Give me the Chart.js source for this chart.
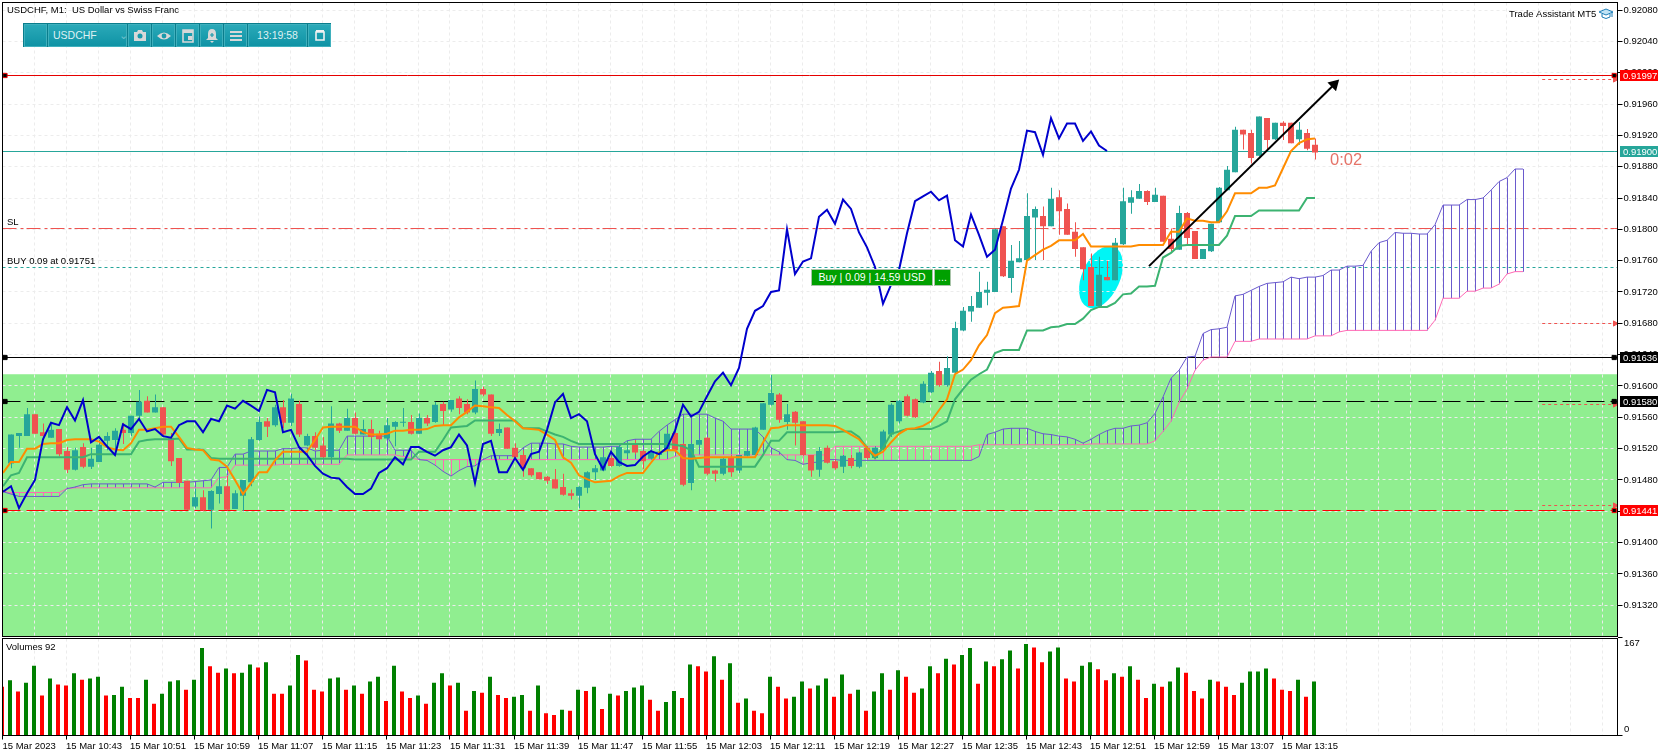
<!DOCTYPE html>
<html>
<head>
<meta charset="utf-8">
<title>USDCHF, M1</title>
<script src="https://cdn.jsdelivr.net/npm/chart.js@4/dist/chart.umd.min.js"></script>
<style>
  html, body { margin: 0; padding: 0; background: #fff; overflow: hidden; }
  #wrap { position: relative; width: 1670px; height: 756px; font-family: 'Liberation Sans', sans-serif; }
  canvas { position: absolute; left: 0; top: 0; }
  #toolbar { position: absolute; left: 23px; top: 23px; width: 308px; height: 24px; background: #0a7d8c; }
  #toolbar div { position: absolute; top: 1px; height: 21px; line-height: 21px; color: #dff1f3; font-size: 10.5px;
    background: linear-gradient(#2aa9b8, #0f93a5); border: 1px solid #3fb0bd; box-sizing: content-box; text-align: center; }
  #toolbar svg { position: absolute; left: 4px; top: 3px; }
  #buy, #more { position: absolute; top: 269px; height: 15px; line-height: 15px; background: #00a000; color: #fff;
    font-size: 10.5px; border: 1px solid #a9c4a9; text-align: center; }
  #buy { left: 811px; width: 120px; }
  #more { left: 934px; width: 15px; }
  #hat { position: absolute; left: 1598px; top: 6px; }
</style>
</head>
<body>
<div id="wrap">
  <canvas id="chart" width="1670" height="756"></canvas>
  <div id="toolbar">
    <div style="left:1px;width:21px"></div>
    <div style="left:25px;width:77px;text-align:left;text-indent:4px">USDCHF<span style="position:absolute;left:66px;color:#6fc0cb">&#8964;</span></div>
    <div style="left:105px;width:21px"><svg width="14" height="15" viewBox="0 0 14 15"><path d="M1 4h3l1-2h4l1 2h3v9H1z" fill="#d8d8d8"/><circle cx="7" cy="8" r="2.5" fill="#1a9aab"/></svg></div>
    <div style="left:129px;width:21px"><svg width="14" height="15" viewBox="0 0 14 15"><path d="M0 8q7-7 14 0q-7 7-14 0z" fill="#d8d8d8"/><circle cx="7" cy="8" r="2.4" fill="#1a9aab"/></svg></div>
    <div style="left:153px;width:21px"><svg width="14" height="15" viewBox="0 0 14 15"><path d="M2 2h10v12H2z" fill="none" stroke="#d8d8d8" stroke-width="1.6"/><path d="M2 2h10v3H2zM7 8h4v4H7z" fill="#d8d8d8"/></svg></div>
    <div style="left:177px;width:21px"><svg width="14" height="15" viewBox="0 0 14 15"><path d="M7 1q4 0 4 5v4l2 2H1l2-2V6q0-5 4-5zM5 13h4l-2 2z" fill="#d8d8d8"/><path d="M5 7h4M7 5v4" stroke="#1a9aab" stroke-width="1.2"/></svg></div>
    <div style="left:201px;width:21px"><svg width="14" height="15" viewBox="0 0 14 15"><path d="M1 4h12M1 8h12M1 12h12" stroke="#d8d8d8" stroke-width="2"/></svg></div>
    <div style="left:225px;width:57px">13:19:58</div>
    <div style="left:285px;width:21px"><svg width="14" height="15" viewBox="0 0 14 15"><path d="M3 4h8v8H3z" fill="none" stroke="#f2f2f2" stroke-width="1.6"/><path d="M3 3h8" stroke="#f2f2f2" stroke-width="2"/></svg></div>
  </div>
  <div id="buy">Buy | 0.09 | 14.59 USD</div>
  <div id="more">...</div>
  <svg id="hat" width="16" height="16" viewBox="0 0 16 16"><path d="M1 6l7-3 7 3-7 3z" fill="#bfe3f5" stroke="#1f7fb8"/><path d="M4 8v3q4 3 8 0V8" fill="none" stroke="#1f7fb8"/><path d="M14 6v5" stroke="#1f7fb8"/></svg>
</div>

<script>
// === Candles (one per minute, 10:35 to 13:19) ===
const opens = [
0.91467,0.91501,0.91536,0.91536,0.91564,0.91541,0.91534,0.91545,0.91517,0.91493,
0.91522,0.91497,0.91503,0.91530,0.91531,0.91544,0.91540,0.91562,0.91581,0.91566,
0.91573,0.91534,0.91508,0.91479,0.91446,0.91458,0.91442,0.91462,0.91472,0.91443,
0.91460,0.91477,0.91531,0.91555,0.91550,0.91573,0.91553,0.91577,0.91524,0.91536,
0.91524,0.91509,0.91552,0.91543,0.91559,0.91538,0.91545,0.91539,0.91533,0.91548,
0.91553,0.91554,0.91539,0.91559,0.91554,0.91577,0.91570,0.91584,0.91577,0.91566,
0.91596,0.91589,0.91540,0.91547,0.91521,0.91512,0.91495,0.91490,0.91484,0.91481,
0.91471,0.91463,0.91460,0.91470,0.91490,0.91492,0.91508,0.91498,0.91514,0.91525,
0.91517,0.91507,0.91512,0.91518,0.91540,0.91526,0.91476,0.91525,0.91534,0.91492,
0.91488,0.91508,0.91492,0.91511,0.91512,0.91544,0.91576,0.91589,0.91554,0.91567,
0.91555,0.91512,0.91493,0.91521,0.91504,0.91497,0.91508,0.91497,0.91521,0.91508,
0.91519,0.91538,0.91555,0.91587,0.91583,0.91579,0.91592,0.91619,0.91601,0.91617,
0.91671,0.91695,0.91700,0.91719,0.91720,0.91804,0.91738,0.91758,0.91761,0.91815,
0.91817,0.91804,0.91841,0.91826,0.91797,0.91777,0.91752,0.91702,0.91739,0.91735,
0.91781,0.91834,0.91839,0.91849,0.91835,0.91843,0.91788,0.91774,0.91821,0.91798,
0.91762,0.91772,0.91809,0.91850,0.91873,0.91927,0.91923,0.91894,0.91942,0.91915,
0.91936,0.91936,0.91915,0.91923,0.91908];
const highs = [
0.91467,0.91538,0.91540,0.91572,0.91564,0.91552,0.91553,0.91545,0.91522,0.91521,
0.91527,0.91521,0.91531,0.91541,0.91546,0.91553,0.91562,0.91595,0.91587,0.91589,
0.91573,0.91540,0.91508,0.91479,0.91469,0.91467,0.91467,0.91485,0.91485,0.91467,
0.91480,0.91535,0.91561,0.91559,0.91576,0.91582,0.91590,0.91581,0.91539,0.91541,
0.91535,0.91574,0.91553,0.91571,0.91566,0.91557,0.91557,0.91543,0.91559,0.91555,
0.91572,0.91563,0.91565,0.91563,0.91580,0.91580,0.91582,0.91587,0.91583,0.91607,
0.91599,0.91589,0.91552,0.91547,0.91527,0.91518,0.91495,0.91490,0.91485,0.91494,
0.91488,0.91468,0.91472,0.91491,0.91499,0.91510,0.91510,0.91525,0.91530,0.91531,
0.91518,0.91518,0.91518,0.91540,0.91540,0.91527,0.91527,0.91533,0.91535,0.91493,
0.91508,0.91512,0.91512,0.91517,0.91548,0.91578,0.91614,0.91591,0.91577,0.91568,
0.91555,0.91512,0.91522,0.91524,0.91506,0.91512,0.91512,0.91516,0.91523,0.91523,
0.91544,0.91578,0.91582,0.91589,0.91584,0.91606,0.91619,0.91631,0.91638,0.91682,
0.91701,0.91715,0.91746,0.91733,0.91801,0.91804,0.91780,0.91785,0.91846,0.91829,
0.91829,0.91853,0.91850,0.91833,0.91809,0.91777,0.91769,0.91765,0.91760,0.91789,
0.91853,0.91850,0.91858,0.91850,0.91853,0.91843,0.91801,0.91830,0.91822,0.91798,
0.91775,0.91807,0.91854,0.91881,0.91931,0.91927,0.91927,0.91944,0.91942,0.91936,
0.91938,0.91936,0.91937,0.91928,0.91916];
const lows = [
0.91465,0.91495,0.91521,0.91536,0.91539,0.91531,0.91534,0.91510,0.91489,0.91492,
0.91495,0.91494,0.91503,0.91518,0.91518,0.91526,0.91536,0.91557,0.91566,0.91566,
0.91535,0.91498,0.91476,0.91442,0.91444,0.91440,0.91418,0.91450,0.91441,0.91443,
0.91440,0.91472,0.91530,0.91535,0.91548,0.91546,0.91549,0.91535,0.91523,0.91518,
0.91508,0.91508,0.91540,0.91543,0.91538,0.91538,0.91533,0.91532,0.91532,0.91523,
0.91548,0.91538,0.91539,0.91549,0.91553,0.91550,0.91567,0.91564,0.91564,0.91564,
0.91587,0.91536,0.91536,0.91520,0.91508,0.91484,0.91484,0.91481,0.91475,0.91469,
0.91460,0.91455,0.91444,0.91463,0.91480,0.91491,0.91497,0.91497,0.91510,0.91513,
0.91494,0.91506,0.91510,0.91516,0.91516,0.91472,0.91467,0.91523,0.91486,0.91478,
0.91486,0.91484,0.91489,0.91510,0.91510,0.91544,0.91575,0.91553,0.91544,0.91524,
0.91511,0.91484,0.91484,0.91501,0.91493,0.91489,0.91495,0.91495,0.91506,0.91507,
0.91518,0.91535,0.91552,0.91561,0.91559,0.91578,0.91591,0.91599,0.91599,0.91615,
0.91670,0.91682,0.91700,0.91703,0.91720,0.91739,0.91719,0.91758,0.91761,0.91761,
0.91761,0.91804,0.91793,0.91793,0.91765,0.91735,0.91702,0.91702,0.91735,0.91735,
0.91780,0.91820,0.91839,0.91831,0.91835,0.91784,0.91772,0.91774,0.91780,0.91762,
0.91762,0.91771,0.91808,0.91850,0.91873,0.91902,0.91884,0.91893,0.91901,0.91914,
0.91914,0.91910,0.91908,0.91901,0.91889];
const closes = [
0.91465,0.91538,0.91540,0.91564,0.91539,0.91536,0.91544,0.91513,0.91493,0.91518,
0.91497,0.91507,0.91525,0.91536,0.91543,0.91540,0.91562,0.91580,0.91566,0.91573,
0.91538,0.91504,0.91476,0.91442,0.91458,0.91441,0.91466,0.91472,0.91442,0.91463,
0.91480,0.91532,0.91554,0.91548,0.91573,0.91553,0.91584,0.91538,0.91536,0.91521,
0.91509,0.91552,0.91543,0.91559,0.91539,0.91545,0.91535,0.91532,0.91550,0.91554,
0.91554,0.91539,0.91559,0.91552,0.91576,0.91568,0.91582,0.91572,0.91566,0.91596,
0.91589,0.91539,0.91545,0.91520,0.91509,0.91495,0.91486,0.91481,0.91479,0.91469,
0.91461,0.91460,0.91471,0.91490,0.91495,0.91509,0.91498,0.91522,0.91518,0.91515,
0.91504,0.91517,0.91516,0.91539,0.91518,0.91474,0.91526,0.91531,0.91488,0.91488,
0.91507,0.91490,0.91512,0.91517,0.91547,0.91578,0.91591,0.91557,0.91564,0.91553,
0.91512,0.91492,0.91517,0.91502,0.91495,0.91511,0.91498,0.91515,0.91508,0.91521,
0.91542,0.91576,0.91581,0.91562,0.91560,0.91603,0.91617,0.91601,0.91623,0.91674,
0.91696,0.91702,0.91720,0.91723,0.91800,0.91740,0.91760,0.91763,0.91817,0.91826,
0.91804,0.91839,0.91823,0.91793,0.91775,0.91749,0.91702,0.91742,0.91735,0.91783,
0.91836,0.91841,0.91849,0.91835,0.91844,0.91784,0.91775,0.91821,0.91789,0.91762,
0.91775,0.91807,0.91853,0.91876,0.91927,0.91921,0.91891,0.91944,0.91914,0.91936,
0.91932,0.91910,0.91927,0.91903,0.91898];

// === Ichimoku lines ===
const tenkan = [
0.91489,0.91503,0.91503,0.91520,0.91520,0.91526,0.91527,0.91527,0.91531,0.91532,
0.91532,0.91532,0.91529,0.91522,0.91519,0.91518,0.91527,0.91544,0.91544,0.91546,
0.91548,0.91548,0.91535,0.91521,0.91519,0.91518,0.91506,0.91505,0.91497,0.91480,
0.91462,0.91476,0.91490,0.91490,0.91505,0.91516,0.91516,0.91516,0.91516,0.91531,
0.91547,0.91548,0.91548,0.91548,0.91548,0.91541,0.91538,0.91538,0.91539,0.91543,
0.91543,0.91544,0.91544,0.91545,0.91549,0.91550,0.91550,0.91560,0.91567,0.91575,
0.91574,0.91573,0.91572,0.91563,0.91555,0.91546,0.91545,0.91544,0.91538,0.91531,
0.91509,0.91502,0.91486,0.91481,0.91477,0.91478,0.91479,0.91485,0.91489,0.91489,
0.91489,0.91502,0.91515,0.91518,0.91518,0.91508,0.91507,0.91508,0.91509,0.91509,
0.91509,0.91509,0.91509,0.91509,0.91509,0.91528,0.91546,0.91547,0.91550,0.91550,
0.91550,0.91550,0.91550,0.91550,0.91549,0.91544,0.91538,0.91532,0.91521,0.91511,
0.91516,0.91528,0.91539,0.91545,0.91546,0.91549,0.91555,0.91569,0.91583,0.91615,
0.91621,0.91633,0.91652,0.91665,0.91693,0.91700,0.91701,0.91702,0.91760,0.91767,
0.91774,0.91779,0.91786,0.91786,0.91786,0.91794,0.91778,0.91778,0.91778,0.91778,
0.91778,0.91778,0.91780,0.91780,0.91780,0.91780,0.91797,0.91797,0.91814,0.91811,
0.91811,0.91809,0.91809,0.91823,0.91846,0.91846,0.91846,0.91853,0.91853,0.91856,
0.91878,0.91900,0.91910,0.91915,0.91916];
const kijun = [
0.91472,0.91486,0.91489,0.91509,0.91509,0.91509,0.91509,0.91509,0.91509,0.91509,
0.91509,0.91513,0.91513,0.91513,0.91513,0.91513,0.91513,0.91529,0.91531,0.91532,
0.91532,0.91532,0.91533,0.91519,0.91519,0.91519,0.91508,0.91507,0.91507,0.91507,
0.91507,0.91507,0.91507,0.91507,0.91507,0.91507,0.91507,0.91507,0.91507,0.91507,
0.91507,0.91507,0.91507,0.91507,0.91506,0.91506,0.91506,0.91506,0.91506,0.91506,
0.91506,0.91506,0.91516,0.91516,0.91516,0.91531,0.91547,0.91548,0.91549,0.91556,
0.91556,0.91556,0.91556,0.91556,0.91556,0.91546,0.91546,0.91546,0.91542,0.91538,
0.91535,0.91530,0.91526,0.91526,0.91526,0.91526,0.91526,0.91526,0.91526,0.91526,
0.91526,0.91526,0.91526,0.91526,0.91525,0.91523,0.91518,0.91497,0.91497,0.91497,
0.91497,0.91497,0.91497,0.91497,0.91497,0.91512,0.91530,0.91530,0.91541,0.91541,
0.91541,0.91541,0.91541,0.91541,0.91541,0.91542,0.91542,0.91535,0.91521,0.91508,
0.91521,0.91539,0.91542,0.91545,0.91545,0.91545,0.91545,0.91549,0.91555,0.91583,
0.91596,0.91608,0.91615,0.91621,0.91642,0.91646,0.91646,0.91646,0.91671,0.91671,
0.91671,0.91675,0.91676,0.91679,0.91679,0.91686,0.91697,0.91701,0.91701,0.91706,
0.91717,0.91718,0.91727,0.91727,0.91728,0.91764,0.91770,0.91779,0.91780,0.91780,
0.91780,0.91780,0.91780,0.91792,0.91817,0.91817,0.91817,0.91824,0.91824,0.91824,
0.91824,0.91824,0.91824,0.91840,0.91840];
const chikou = [
0.91465,0.91472,0.91444,0.91463,0.91480,0.91532,0.91553,0.91550,0.91573,0.91556,
0.91582,0.91528,0.91535,0.91523,0.91512,0.91551,0.91545,0.91558,0.91542,0.91545,
0.91536,0.91534,0.91550,0.91555,0.91555,0.91541,0.91558,0.91555,0.91575,0.91571,
0.91581,0.91575,0.91568,0.91595,0.91592,0.91541,0.91544,0.91522,0.91512,0.91498,
0.91488,0.91483,0.91482,0.91471,0.91462,0.91462,0.91469,0.91489,0.91495,0.91509,
0.91500,0.91522,0.91522,0.91516,0.91511,0.91518,0.91522,0.91538,0.91524,0.91476,
0.91526,0.91530,0.91490,0.91490,0.91508,0.91493,0.91513,0.91516,0.91544,0.91579,
0.91590,0.91559,0.91564,0.91555,0.91513,0.91494,0.91516,0.91503,0.91498,0.91499,
0.91510,0.91517,0.91513,0.91521,0.91543,0.91576,0.91561,0.91567,0.91587,0.91606,
0.91617,0.91601,0.91623,0.91673,0.91696,0.91702,0.91720,0.91722,0.91800,0.91743,
0.91759,0.91763,0.91816,0.91825,0.91807,0.91838,0.91826,0.91796,0.91777,0.91752,
0.91705,0.91729,0.91748,0.91795,0.91836,0.91842,0.91848,0.91837,0.91843,0.91786,
0.91778,0.91819,0.91793,0.91765,0.91774,0.91812,0.91852,0.91876,0.91926,0.91924,
0.91895,0.91942,0.91916,0.91935,0.91935,0.91913,0.91925,0.91907,0.91900];
const senkouA = [
0.91465,0.91462,0.91459,0.91459,0.91459,0.91459,0.91459,0.91459,0.91469,0.91471,
0.91474,0.91475,0.91475,0.91475,0.91475,0.91475,0.91475,0.91475,0.91475,0.91471,
0.91477,0.91477,0.91477,0.91477,0.91478,0.91479,0.91480,0.91496,0.91496,0.91513,
0.91513,0.91517,0.91517,0.91517,0.91517,0.91520,0.91520,0.91521,0.91521,0.91517,
0.91518,0.91518,0.91518,0.91536,0.91536,0.91536,0.91536,0.91536,0.91536,0.91518,
0.91518,0.91518,0.91506,0.91505,0.91499,0.91491,0.91485,0.91492,0.91497,0.91498,
0.91506,0.91511,0.91511,0.91511,0.91511,0.91521,0.91527,0.91527,0.91527,0.91526,
0.91526,0.91523,0.91522,0.91522,0.91522,0.91522,0.91523,0.91523,0.91530,0.91532,
0.91532,0.91532,0.91542,0.91550,0.91557,0.91564,0.91564,0.91564,0.91564,0.91559,
0.91555,0.91545,0.91545,0.91545,0.91545,0.91535,0.91521,0.91516,0.91506,0.91505,
0.91500,0.91502,0.91503,0.91506,0.91506,0.91505,0.91505,0.91505,0.91505,0.91505,
0.91505,0.91505,0.91505,0.91505,0.91505,0.91505,0.91505,0.91505,0.91505,0.91505,
0.91505,0.91505,0.91510,0.91538,0.91541,0.91545,0.91546,0.91546,0.91546,0.91542,
0.91539,0.91538,0.91536,0.91535,0.91532,0.91527,0.91532,0.91538,0.91543,0.91546,
0.91546,0.91549,0.91550,0.91553,0.91565,0.91586,0.91610,0.91620,0.91637,0.91638,
0.91667,0.91672,0.91673,0.91675,0.91715,0.91717,0.91722,0.91727,0.91731,0.91732,
0.91733,0.91739,0.91737,0.91739,0.91739,0.91741,0.91748,0.91748,0.91753,0.91753,
0.91754,0.91772,0.91783,0.91786,0.91796,0.91795,0.91795,0.91794,0.91794,0.91806,
0.91831,0.91831,0.91831,0.91838,0.91838,0.91840,0.91850,0.91861,0.91866,0.91877,
0.91877];
const senkouB = [
0.91465,0.91464,0.91464,0.91464,0.91464,0.91464,0.91464,0.91464,0.91469,0.91470,
0.91470,0.91470,0.91470,0.91470,0.91470,0.91470,0.91470,0.91470,0.91470,0.91470,
0.91470,0.91470,0.91470,0.91470,0.91470,0.91470,0.91470,0.91483,0.91484,0.91499,
0.91499,0.91499,0.91499,0.91499,0.91499,0.91500,0.91500,0.91500,0.91500,0.91500,
0.91500,0.91500,0.91500,0.91512,0.91512,0.91512,0.91512,0.91512,0.91512,0.91512,
0.91510,0.91508,0.91506,0.91506,0.91506,0.91506,0.91506,0.91506,0.91506,0.91506,
0.91506,0.91506,0.91506,0.91506,0.91506,0.91506,0.91506,0.91506,0.91506,0.91506,
0.91506,0.91506,0.91506,0.91506,0.91506,0.91506,0.91506,0.91506,0.91506,0.91506,
0.91506,0.91506,0.91506,0.91506,0.91510,0.91512,0.91512,0.91512,0.91512,0.91512,
0.91512,0.91512,0.91512,0.91512,0.91512,0.91512,0.91512,0.91512,0.91512,0.91512,
0.91512,0.91512,0.91512,0.91512,0.91523,0.91523,0.91523,0.91523,0.91523,0.91523,
0.91523,0.91523,0.91523,0.91523,0.91523,0.91523,0.91523,0.91523,0.91523,0.91523,
0.91523,0.91523,0.91525,0.91525,0.91525,0.91525,0.91525,0.91525,0.91525,0.91525,
0.91525,0.91525,0.91525,0.91525,0.91525,0.91525,0.91526,0.91526,0.91526,0.91526,
0.91526,0.91526,0.91526,0.91526,0.91530,0.91542,0.91555,0.91579,0.91596,0.91620,
0.91633,0.91637,0.91637,0.91637,0.91657,0.91657,0.91657,0.91660,0.91660,0.91660,
0.91660,0.91660,0.91660,0.91660,0.91664,0.91664,0.91664,0.91669,0.91671,0.91671,
0.91671,0.91671,0.91671,0.91671,0.91671,0.91671,0.91671,0.91671,0.91671,0.91684,
0.91712,0.91712,0.91712,0.91721,0.91721,0.91725,0.91725,0.91730,0.91743,0.91746,
0.91746];

// === Volumes ===
const volumes = [
83,94,75,90,119,68,97,87,85,106,95,97,100,68,69,83,64,64,95,54,
71,92,94,78,95,149,118,107,114,106,107,121,116,125,71,71,85,137,128,78,
75,97,99,78,85,71,92,100,59,119,75,64,68,54,90,106,85,90,42,76,
73,100,69,64,66,69,42,85,38,35,44,42,78,76,83,45,71,68,76,82,
85,61,42,57,76,64,121,118,109,135,95,123,56,63,42,38,100,83,63,66,
92,80,85,97,66,104,71,78,42,75,106,78,111,100,73,80,118,106,131,121,
137,149,88,126,118,130,145,114,156,150,125,143,150,97,92,119,125,113,94,106,
100,118,95,64,88,83,92,116,107,76,63,95,92,83,69,90,109,109,114,97,
78,76,95,66,92];

// === Axis labels ===
const timeLabels = ['15 Mar 2023','15 Mar 10:43','15 Mar 10:51','15 Mar 10:59','15 Mar 11:07','15 Mar 11:15','15 Mar 11:23',
  '15 Mar 11:31','15 Mar 11:39','15 Mar 11:47','15 Mar 11:55','15 Mar 12:03','15 Mar 12:11','15 Mar 12:19','15 Mar 12:27',
  '15 Mar 12:35','15 Mar 12:43','15 Mar 12:51','15 Mar 12:59','15 Mar 13:07','15 Mar 13:15'];
const priceTicks = [0.92080,0.92040,0.92000,0.91960,0.91920,0.91880,0.91840,0.91800,0.91760,0.91720,
  0.91680,0.91640,0.91600,0.91560,0.91520,0.91480,0.91440,0.91400,0.91360,0.91320];
const volumeTicks = [167, 0];

// === Price levels and objects ===
const levelPrices = [0.91997, 0.91900, 0.91801, 0.91751, 0.91636, 0.91580, 0.91441];
const levelColors = ['#e60000', '#26a69a', '#ef5350', '#26a69a', '#000000', '#000000', '#ff0000'];
const levelDashes = [[], [], [14, 4, 3, 3], [3, 3], [], [18, 6], [18, 6]];
const levelHandles = [true, false, false, false, true, true, true];
const tagPrices = [0.91997, 0.91900, 0.91636, 0.91580, 0.91441];
const tagColors = ['#ff0000', '#26a69a', '#000000', '#000000', '#ff0000'];
const arrowPrices = [0.91991, 0.91680, 0.91576, 0.91448];
const trendBars = [143.25, 166.4];
const trendPrices = [0.91753, 0.91985];
const bandTop = 0.91615;
const ellipseBar = 137.25;
const ellipsePrice = 0.91739;

// === Geometry of the panes ===
const plotLeft = 2.5, plotRight = 1617.5, barStep = 8;
const fontFamily = "'Liberation Sans', sans-serif";
const upColor = '#26a69a', downColor = '#ef5350';

function hiddenX(firstBarPx) {
  return {
    type: 'linear', display: false, offset: false,
    min: (plotLeft - firstBarPx) / barStep,
    max: (plotRight - firstBarPx) / barStep,
    grid: { offset: false }
  };
}
const points = arr => arr.map((y, i) => ({ x: i, y }));
const candleColors = opens.map((o, i) => closes[i] >= o ? upColor : downColor);

let volumeUp = false;
const volumeColors = volumes.map((v, i) => {
  if (i > 0 && v !== volumes[i - 1]) volumeUp = v > volumes[i - 1];
  return volumeUp ? '#008000' : '#ff0000';
});

function lineSet(arr, color, width) {
  return { type: 'line', data: points(arr), xAxisID: 'xc', yAxisID: 'y', borderColor: color, borderWidth: width,
    pointRadius: 0, tension: 0, fill: false };
}
function barSet(data, colors, width, xAxisID, yAxisID) {
  return { type: 'bar', data, xAxisID, yAxisID, backgroundColor: colors, barThickness: width, grouped: false,
    borderWidth: 0, inflateAmount: 0, minBarLength: 1 };
}

// === Datasets, the first in the list is drawn on top ===
const datasets = [];
datasets.push({
  type: 'line', xAxisID: 'xc', yAxisID: 'y', data: trendBars.map((x, i) => ({ x, y: trendPrices[i] })),
  borderColor: '#000', borderWidth: 2, backgroundColor: '#000', pointStyle: 'triangle', pointRotation: 45,
  pointBorderColor: '#000', pointRadius: ctx => ctx.dataIndex === 1 ? 5 : 0
});
datasets.push(lineSet(chikou, '#0000cd', 2));
datasets.push(lineSet(tenkan, '#ff8c00', 2));
datasets.push(lineSet(kijun, '#3cb371', 2));
datasets.push(barSet(opens.map((o, i) => ({ x: i, y: [o, closes[i]] })), candleColors, 6, 'xc', 'y'));
datasets.push(barSet(highs.map((h, i) => ({ x: i, y: [lows[i], h] })), candleColors, 1, 'xw', 'y'));
datasets.push(lineSet(senkouA, '#6a5acd', 1));
datasets.push(lineSet(senkouB, '#ff69b4', 1));
datasets.push(barSet(senkouA.map((a, i) => ({ x: i, y: [a, senkouB[i]] })),
  senkouA.map((a, i) => a >= senkouB[i] ? '#6a5acd' : '#ff69b4'), 1, 'xw', 'y'));

levelPrices.forEach((price, n) => {
  const xc = hiddenX(3);
  datasets.push({
    type: 'line', xAxisID: 'xc', yAxisID: 'y', snapToRow: true,
    data: [xc.min, 0.25, 201.4, xc.max].map(x => ({ x, y: price })),
    borderColor: levelColors[n], borderWidth: 1, borderDash: levelDashes[n],
    pointStyle: 'rect', pointBackgroundColor: '#000', pointBorderColor: levelColors[n], pointBorderWidth: 1,
    pointRadius: ctx => levelHandles[n] && (ctx.dataIndex === 1 || ctx.dataIndex === 2) ? 3 : 0
  });
});
arrowPrices.forEach(price => {
  datasets.push({
    type: 'line', xAxisID: 'xc', yAxisID: 'y', snapToRow: true, data: [{ x: 192.4, y: price }, { x: 201.5, y: price }],
    borderColor: '#ef5350', borderWidth: 1, borderDash: [3, 3], backgroundColor: '#ef5350',
    pointStyle: 'triangle', pointRotation: 90, pointBorderColor: '#ef5350',
    pointRadius: ctx => ctx.dataIndex === 1 ? 3 : 0
  });
});
datasets.push(barSet(points(volumes), volumeColors, 4, 'x', 'yVol'));

// === Band, ellipse, pane frames, price tags and chart texts ===
const decorations = {
  id: 'decorations',
  beforeDraw(chart) {
    const { ctx, scales } = chart;
    const y = scales.y, xc = scales.xc;
    const top = y.getPixelForValue(bandTop);
    ctx.save();
    ctx.fillStyle = '#90ee90';
    ctx.fillRect(plotLeft, top, plotRight - plotLeft, y.bottom - 1 - top);
    ctx.fillStyle = '#00f5f5';
    ctx.beginPath();
    ctx.ellipse(xc.getPixelForValue(ellipseBar), y.getPixelForValue(ellipsePrice), 33, 19, -66 * Math.PI / 180, 0, Math.PI * 2);
    ctx.fill();
    ctx.restore();
  },
  // horizontal levels stay one pixel sharp, like the grid lines
  beforeDatasetsDraw(chart) {
    chart.data.datasets.forEach((ds, i) => {
      if (!ds.snapToRow) return;
      chart.getDatasetMeta(i).data.forEach(pt => { pt.y = Math.floor(pt.y) + 0.5; });
    });
  },
  afterDraw(chart) {
    const { ctx, scales } = chart;
    const y = scales.y, yVol = scales.yVol;
    ctx.save();

    // pane frames
    ctx.strokeStyle = '#000';
    ctx.lineWidth = 1;
    ctx.strokeRect(plotLeft, y.top, plotRight - plotLeft, y.bottom - 1 - y.top);
    ctx.strokeRect(plotLeft, yVol.top + 1, plotRight - plotLeft, yVol.bottom - yVol.top - 1);

    // price tags on the axis
    ctx.font = '9.5px ' + fontFamily;
    ctx.textBaseline = 'middle';
    tagPrices.forEach((price, i) => {
      const py = Math.floor(y.getPixelForValue(price));
      ctx.fillStyle = tagColors[i];
      ctx.fillRect(1620, py - 5, 38, 11);
      ctx.fillStyle = '#fff';
      ctx.fillText(price.toFixed(5), 1623, py + 1);
    });

    // volume axis labels sit inside the pane
    ctx.fillStyle = '#000';
    ctx.fillText(String(volumeTicks[0]), 1624, yVol.getPixelForValue(volumeTicks[0]) + 6);
    ctx.fillText(String(volumeTicks[1]), 1624, yVol.getPixelForValue(volumeTicks[1]) - 6);

    // labels inside the chart
    ctx.fillText('USDCHF, M1:  US Dollar vs Swiss Franc', 7, 10);
    ctx.fillText('Trade Assistant MT5', 1509, 14);
    ctx.fillText('Volumes 92', 6, 647);
    ctx.fillText('SL', 7, y.getPixelForValue(levelPrices[2]) - 6);
    ctx.fillText('BUY 0.09 at 0.91751', 7, y.getPixelForValue(levelPrices[3]) - 6);
    ctx.fillStyle = '#e57368';
    ctx.font = '16.5px ' + fontFamily;
    ctx.fillText('0:02', 1330, 160);
    ctx.restore();
  }
};

const gridColor = '#ececec';
const tickFont = { family: fontFamily, size: 9.5 };
const noPadding = s => { s.paddingTop = 0; s.paddingBottom = 0; s.paddingLeft = 0; s.paddingRight = 0; };

new Chart(document.getElementById('chart'), {
  type: 'bar',
  data: { datasets },
  plugins: [decorations],
  options: {
    responsive: false,
    animation: false,
    devicePixelRatio: 1,
    parsing: true,
    layout: { autoPadding: false, padding: { left: plotLeft, top: 2.5, right: 0, bottom: 0 } },
    plugins: { legend: { display: false }, tooltip: { enabled: false } },
    scales: {
      x: {
        ...hiddenX(2), display: true, position: 'bottom',
        border: { display: false, dash: [3, 3] },
        grid: {
          offset: false, color: gridColor, tickLength: 4, tickBorderDash: [],
          tickColor: ctx => ctx.index % 2 === 0 && ctx.index <= 40 ? '#000' : 'rgba(0,0,0,0)'
        },
        afterBuildTicks: s => {
          s.ticks = [];
          for (let i = 0; i <= 200; i += 4) s.ticks.push({ value: Math.max(i, s.min) });
        },
        afterFit: s => { s.height = 20.5; noPadding(s); },
        ticks: {
          autoSkip: false, maxRotation: 0, minRotation: 0, align: 'start', padding: 1, color: '#000', font: tickFont,
          callback: (v, i) => i % 2 === 0 && timeLabels[i / 2] ? timeLabels[i / 2] : ''
        }
      },
      xc: hiddenX(3),
      xw: hiddenX(3.5),
      y: {
        type: 'linear', position: 'right', stack: 'panes', stackWeight: 635, beginAtZero: false,
        min: 0.912789, max: 0.920896,
        border: { display: false, dash: [3, 3] },
        grid: { color: gridColor, tickColor: '#000', tickLength: 5, tickBorderDash: [] },
        afterBuildTicks: s => { s.ticks = priceTicks.map(value => ({ value })); },
        afterFit: s => { s.width = 52.5; noPadding(s); },
        ticks: { padding: 1, color: '#000', font: tickFont, callback: v => v.toFixed(5) }
      },
      yVol: {
        type: 'linear', position: 'right', stack: 'panes', stackWeight: 98, min: 0, max: 167,
        border: { display: false },
        grid: { drawOnChartArea: false, tickColor: '#000', tickLength: 5 },
        afterBuildTicks: s => { s.ticks = volumeTicks.map(value => ({ value })); },
        afterFit: s => { s.width = 52.5; noPadding(s); },
        ticks: { display: false }
      }
    }
  }
});
</script>
</body>
</html>
